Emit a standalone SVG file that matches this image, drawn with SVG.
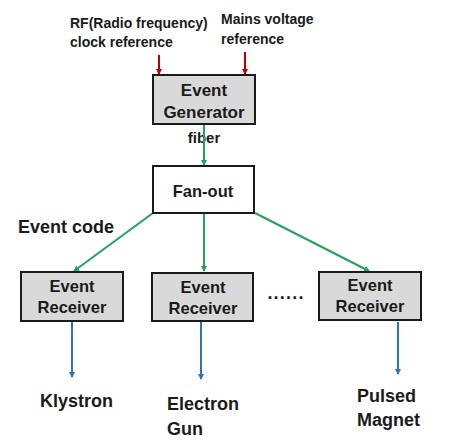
<svg xmlns="http://www.w3.org/2000/svg" width="450" height="443" viewBox="0 0 450 443">
<style>
text{font-family:"Liberation Sans",Arial,sans-serif;font-weight:bold;fill:#1a1a1a}
.box{stroke:#1a1a1a;stroke-width:2}
.gray{fill:#d9d9d9}
.white{fill:#ffffff}
.t17{font-size:17px}
.t165{font-size:16.5px}
.t18{font-size:18px}
.t14{font-size:14px}
.t15{font-size:15px}
.g{stroke:#21a35a;stroke-width:2;fill:none}
.r{stroke:#c00000;stroke-width:2;fill:none}
.b{stroke:#2e75b6;stroke-width:2;fill:none}
</style>
<defs>
<marker id="ag" markerWidth="6" markerHeight="6" refX="5" refY="3" orient="auto" markerUnits="userSpaceOnUse"><path d="M0,0 L6,3 L0,6 Z" fill="#21a35a"/></marker>
<marker id="ar" markerWidth="6" markerHeight="6" refX="5" refY="3" orient="auto" markerUnits="userSpaceOnUse"><path d="M0,0 L6,3 L0,6 Z" fill="#c00000"/></marker>
<marker id="ab" markerWidth="6" markerHeight="6" refX="5" refY="3" orient="auto" markerUnits="userSpaceOnUse"><path d="M0,0 L6,3 L0,6 Z" fill="#2e75b6"/></marker>
</defs>
<rect width="450" height="443" fill="#ffffff"/>
<g id="labels">
<text class="t14" x="70" y="27.5">RF(Radio frequency)</text>
<text class="t14" x="70" y="46.5">clock reference</text>
<text class="t14" x="221" y="24">Mains voltage</text>
<text class="t14" x="221" y="43.5">reference</text>
<text class="t15" x="204" y="143" text-anchor="middle">fiber</text>
<text class="t18" x="18" y="233">Event code</text>
<text class="t18" x="286" y="299" text-anchor="middle" letter-spacing="1.2">......</text>
</g>
<g id="connectors">
<line class="r" x1="159" y1="55" x2="159" y2="74" marker-end="url(#ar)"/>
<line class="r" x1="245" y1="52" x2="245" y2="74" marker-end="url(#ar)"/>
<line class="g" x1="204" y1="125" x2="204" y2="165" marker-end="url(#ag)"/>
<line class="g" x1="153" y1="213" x2="74" y2="271" marker-end="url(#ag)"/>
<line class="g" x1="204" y1="213" x2="204" y2="271" marker-end="url(#ag)"/>
<line class="g" x1="255" y1="213" x2="369" y2="271" marker-end="url(#ag)"/>
<line class="b" x1="72" y1="322" x2="72" y2="377" marker-end="url(#ab)"/>
<line class="b" x1="201" y1="322" x2="201" y2="379" marker-end="url(#ab)"/>
<line class="b" x1="398" y1="322" x2="398" y2="374" marker-end="url(#ab)"/>
</g>
<g id="event-generator">
<rect class="box gray" x="153" y="75" width="102" height="49"/>
<text class="t17" x="204" y="96" text-anchor="middle">Event</text>
<text class="t17" x="204" y="118" text-anchor="middle">Generator</text>
</g>
<g id="fan-out">
<rect class="box white" x="153" y="166" width="101" height="47"/>
<text class="t165" x="203" y="197" text-anchor="middle">Fan-out</text>
</g>
<g id="receiver-1">
<rect class="box gray" x="21" y="272" width="102" height="49"/>
<text class="t165" x="72" y="292" text-anchor="middle">Event</text>
<text class="t165" x="72" y="313" text-anchor="middle">Receiver</text>
</g>
<g id="receiver-2">
<rect class="box gray" x="152" y="273" width="101" height="48"/>
<text class="t165" x="203" y="293" text-anchor="middle">Event</text>
<text class="t165" x="203" y="314" text-anchor="middle">Receiver</text>
</g>
<g id="receiver-3">
<rect class="box gray" x="319" y="272" width="102" height="48"/>
<text class="t165" x="370" y="291" text-anchor="middle">Event</text>
<text class="t165" x="370" y="312" text-anchor="middle">Receiver</text>
</g>
<g id="klystron">
<text class="t18" x="40" y="407">Klystron</text>
</g>
<g id="electron-gun">
<text class="t18" x="167" y="410">Electron</text>
<text class="t18" x="167" y="435">Gun</text>
</g>
<g id="pulsed-magnet">
<text class="t18" x="357" y="402">Pulsed</text>
<text class="t18" x="357" y="426">Magnet</text>
</g>
</svg>
